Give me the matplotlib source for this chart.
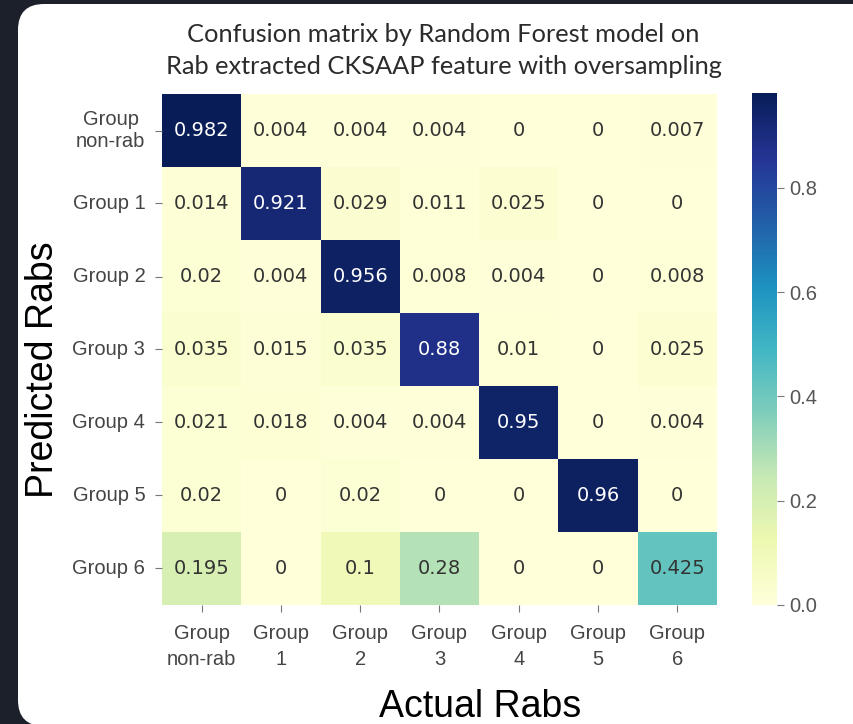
import numpy as np
import matplotlib
matplotlib.use("Agg")
import matplotlib.pyplot as plt
from matplotlib.patches import FancyBboxPatch
import seaborn as sns

# confusion matrix values (rows = predicted, cols = actual)
groups_y = ["Group\nnon-rab", "Group 1", "Group 2", "Group 3", "Group 4", "Group 5", "Group 6"]
groups_x = ["Group\nnon-rab", "Group\n1", "Group\n2", "Group\n3", "Group\n4", "Group\n5", "Group\n6"]
row_nonrab = [0.982, 0.004, 0.004, 0.004, 0, 0, 0.007]
row_g1 = [0.014, 0.921, 0.029, 0.011, 0.025, 0, 0]
row_g2 = [0.02, 0.004, 0.956, 0.008, 0.004, 0, 0.008]
row_g3 = [0.035, 0.015, 0.035, 0.88, 0.01, 0, 0.025]
row_g4 = [0.021, 0.018, 0.004, 0.004, 0.95, 0, 0.004]
row_g5 = [0.02, 0, 0.02, 0, 0, 0.96, 0]
row_g6 = [0.195, 0, 0.1, 0.28, 0, 0, 0.425]
cbar_ticks = [0.0, 0.2, 0.4, 0.6, 0.8]

cm = np.array([row_nonrab, row_g1, row_g2, row_g3, row_g4, row_g5, row_g6])

W, H = 854, 724
fig = plt.figure(figsize=(W / 100, H / 100), dpi=100, facecolor="#1c202a")

def fx(px):
    return px / W

def fy(px):
    return 1 - px / H

# white rounded panel (screenshot frame)
panel = FancyBboxPatch((18 / 100, -0.02), (W + 60 - 18) / 100, (H - 4) / 100 + 0.02,
                       boxstyle="round,pad=0,rounding_size=0.26",
                       transform=fig.dpi_scale_trans, facecolor="white",
                       edgecolor="none", zorder=-10)
fig.patches.append(panel)

ax = fig.add_axes([fx(162), fy(605), fx(717) - fx(162), (605 - 94) / H])
cax = fig.add_axes([fx(752), fy(605), fx(777) - fx(752), (605 - 93) / H])

sns.heatmap(cm, ax=ax, cbar_ax=cax, cmap="YlGnBu", annot=True, fmt="g",
            annot_kws={"fontsize": 14, "family": "DejaVu Sans"},
            xticklabels=groups_x, yticklabels=groups_y,
            cbar_kws={"ticks": cbar_ticks})

for t in ax.texts:
    if t.get_color() in ("w", "white", (1, 1, 1)):
        continue
    t.set_color("#333333")

tick_font = {"family": "Liberation Sans", "size": 14.5, "color": "#444444"}
ax.set_xticklabels(groups_x, rotation=0, multialignment="center", linespacing=1.45,
                   **tick_font)
ax.set_yticklabels(groups_y, rotation=0, multialignment="center", va="center",
                   **tick_font)
ax.tick_params(axis="both", length=5, width=0.8, color="#777777", pad=7)
ax.tick_params(axis="x", pad=9)

cax.tick_params(length=5, width=0.8, color="#777777", pad=4)
for lbl in cax.get_yticklabels():
    lbl.set_family("Liberation Sans")
    lbl.set_fontsize(14.5)
    lbl.set_color("#555555")

fig.text(fx(443), fy(34), "Confusion matrix by Random Forest model on",
         ha="center", va="center", fontsize=18.3, family="Lato", color="#2b2b2b")
fig.text(fx(444), fy(66), "Rab extracted CKSAAP feature with oversampling",
         ha="center", va="center", fontsize=18.3, family="Lato", color="#2b2b2b")

fig.text(fx(43), fy(370), "Predicted Rabs", rotation=90, ha="center", va="center",
         fontsize=27, family="Liberation Sans", color="black")
fig.text(fx(480), fy(707), "Actual Rabs", ha="center", va="center",
         fontsize=27, family="Liberation Sans", color="black")

plt.savefig("out.png", dpi=100, facecolor=fig.get_facecolor())
